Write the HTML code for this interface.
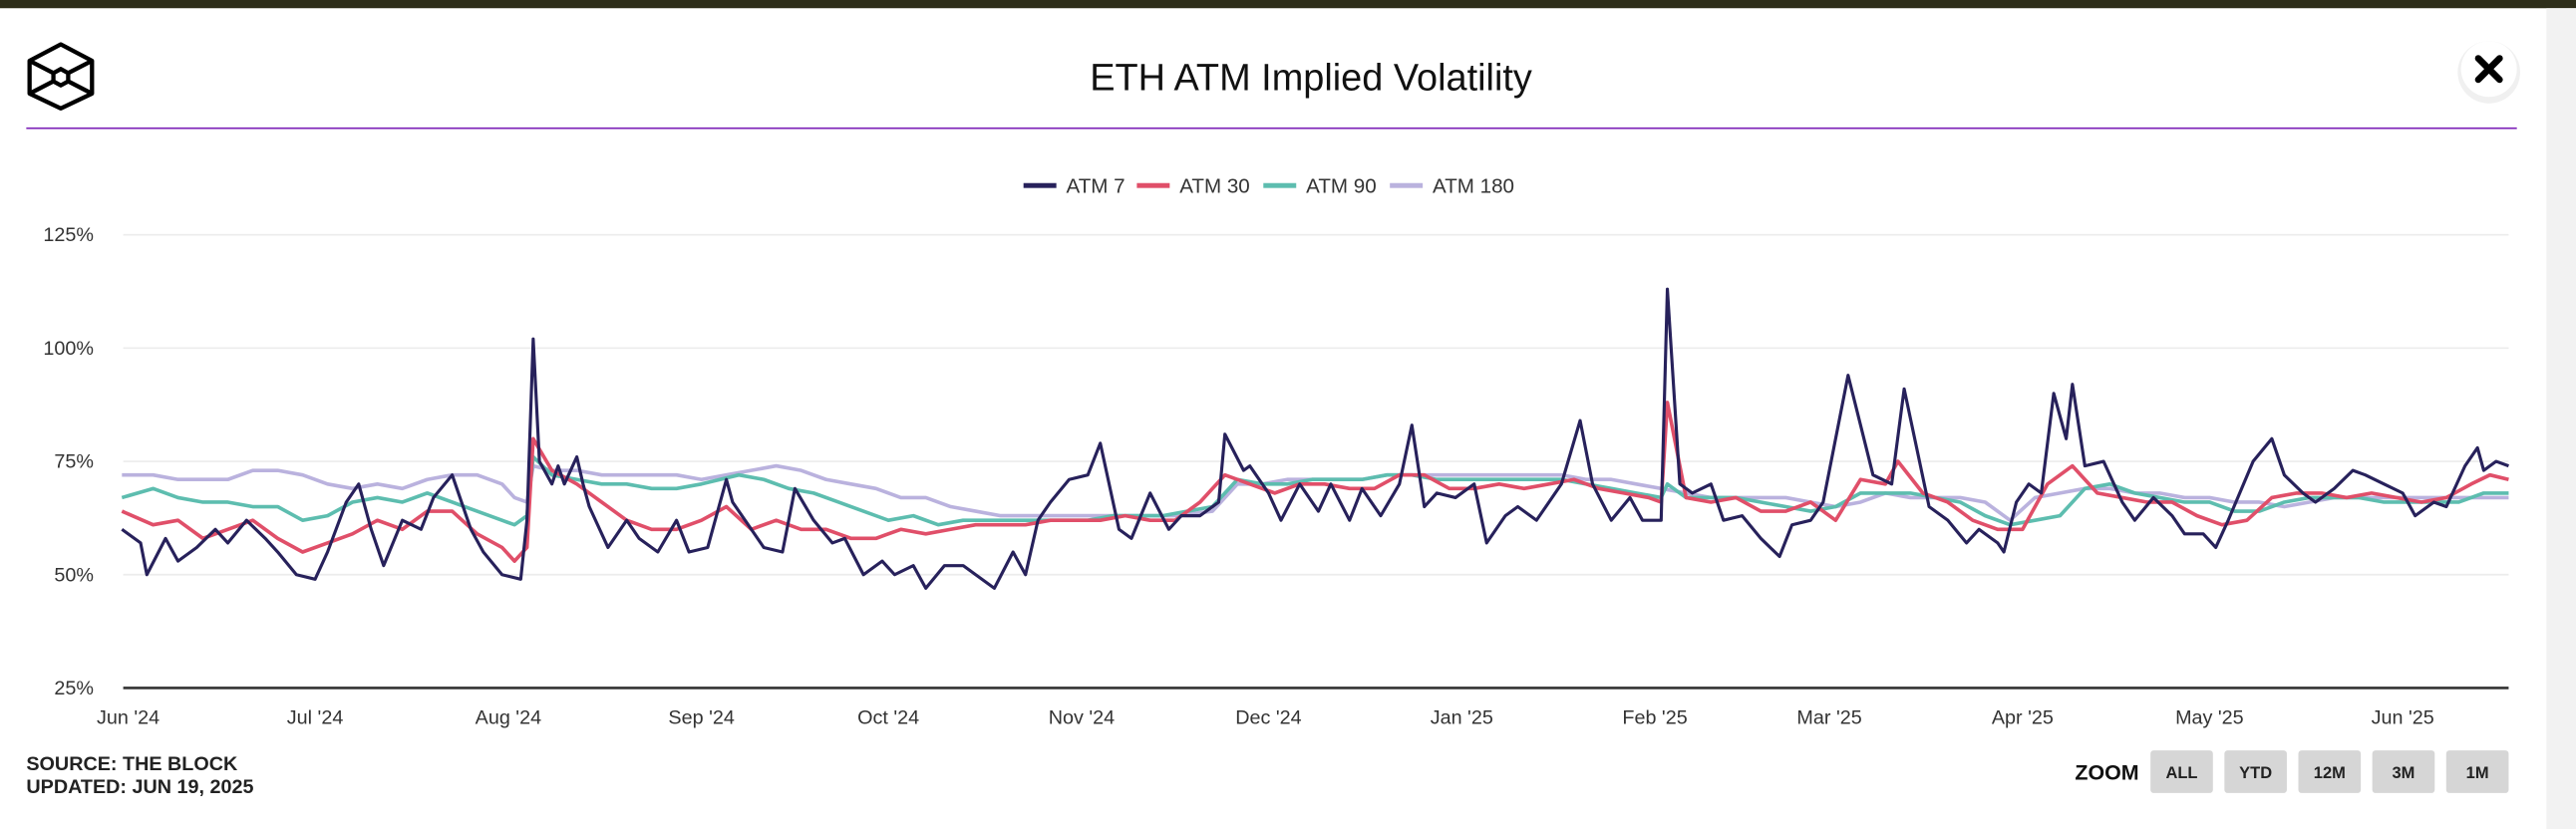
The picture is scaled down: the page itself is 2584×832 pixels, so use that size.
<!DOCTYPE html>
<html><head><meta charset="utf-8"><style>
html,body{margin:0;padding:0;background:#fff;}
svg{display:block;font-family:"Liberation Sans",sans-serif;}
</style></head><body>
<svg id="chart" width="2584" height="832" viewBox="0 0 1568 504.9" preserveAspectRatio="none" xmlns="http://www.w3.org/2000/svg">
<rect x="0" y="0" width="1568" height="505" fill="#fff"/>
<rect x="0" y="0" width="1568" height="5" fill="#2e2e1a"/>
<rect x="1550" y="5" width="18" height="500" fill="#f2f2f2"/>
<g fill="none" stroke="#000" stroke-width="2.6" stroke-linejoin="round">
<polygon points="37,27 56,37 56,57 37,66 18,57 18,37"/>
<polygon points="37,42 41.5,44.5 41.5,49.5 37,52 32.5,49.5 32.5,44.5"/>
<line x1="18" y1="37" x2="32.5" y2="44.5"/><line x1="56" y1="37" x2="41.5" y2="44.5"/>
<line x1="18" y1="57" x2="32.5" y2="49.5"/><line x1="56" y1="57" x2="41.5" y2="49.5"/>
</g>
<text x="798" y="55" text-anchor="middle" font-size="23" fill="#111">ETH ATM Implied Volatility</text>
<g>
<circle cx="1515" cy="44" r="19" fill="#e6e6e6" opacity="0.6"/>
<circle cx="1515" cy="42" r="17" fill="#fff"/>
<path d="M1508.5,35.5 L1521.5,48.5 M1521.5,35.5 L1508.5,48.5" stroke="#000" stroke-width="4" stroke-linecap="round"/>
</g>
<rect x="16" y="77.6" width="1516" height="1" fill="#7d22b8"/>
<g id="legend" font-size="12.5" fill="#333"></g>
<g id="grid"></g>
<g id="yaxis" font-size="12" fill="#333"></g>
<g id="xaxis" font-size="12" fill="#333"></g>
<g id="series"></g>
<text x="16" y="469" font-size="12" font-weight="bold" fill="#222">SOURCE: THE BLOCK</text>
<text x="16" y="483" font-size="12" font-weight="bold" fill="#222">UPDATED: JUN 19, 2025</text>
<text x="1302" y="475" text-anchor="end" font-size="13" font-weight="bold" fill="#111">ZOOM</text>
<g id="zoom" font-size="10" font-weight="bold" fill="#222"></g>
</svg>
<script>
const yTicks = [25, 50, 75, 100, 125];
const xTickLabels = ["Jun '24","Jul '24","Aug '24","Sep '24","Oct '24","Nov '24","Dec '24","Jan '25","Feb '25","Mar '25","Apr '25","May '25","Jun '25"];
const xTickDays = [0,30,61,92,122,153,183,214,245,273,304,334,365];
const seriesNames = ["ATM 7","ATM 30","ATM 90","ATM 180"];
const seriesColors = ["#27215b","#e04f69","#5dbdaf","#bab2de"];
const zoomLabels = ["ALL","YTD","12M","3M","1M"];

const days7 = [-1,2,3,6,8,11,14,16,19,22,24,27,30,32,35,37,39,41,44,47,49,52,55,57,60,63,64,65,66,68,69,70,72,73,74,77,80,82,85,88,90,93,96,97,99,102,105,107,110,113,115,118,121,123,126,128,131,134,136,139,142,144,146,148,151,154,156,159,161,164,167,169,172,175,176,179,180,183,185,188,191,193,196,198,201,204,206,208,210,213,216,218,221,223,226,230,233,235,238,241,243,246,247,249,251,254,256,259,262,265,267,270,272,276,278,280,283,285,287,289,292,295,297,300,301,303,305,307,309,311,312,314,317,320,322,325,328,330,333,335,337,341,344,346,349,351,354,357,359,362,365,367,370,372,375,377,378,380,382];
const atm7 = [60,57,50,58,53,56,60,57,62,58,55,50,49,55,66,70,60,52,62,60,67,72,60,55,50,49,62,102,75,70,74,70,76,70,65,56,62,58,55,62,55,56,71,66,62,56,55,69,62,57,58,50,53,50,52,47,52,52,50,47,55,50,62,66,71,72,79,60,58,68,60,63,63,66,81,73,74,68,62,70,64,70,62,69,63,70,83,65,68,67,70,57,63,65,62,70,84,70,62,67,62,62,113,70,68,70,62,63,58,54,61,62,66,94,83,72,70,91,78,65,62,57,60,57,55,66,70,68,90,80,92,74,75,66,62,67,63,59,59,56,62,75,80,72,68,66,69,73,72,70,68,63,66,65,74,78,73,75,74];

const days30 = [-1,4,8,12,16,20,24,28,32,36,40,44,48,52,56,60,62,64,65,68,72,76,80,84,88,92,96,100,104,108,112,116,120,124,128,132,136,140,144,148,152,156,160,164,168,172,176,180,184,188,192,196,200,204,208,212,216,220,224,228,232,236,240,244,246,247,250,254,258,262,266,270,274,278,282,284,288,292,296,300,304,308,312,316,320,324,328,332,336,340,344,348,352,356,360,364,368,372,376,379,382];
const atm30 = [64,61,62,58,60,62,58,55,57,59,62,60,64,64,59,56,53,56,80,73,70,66,62,60,60,62,65,60,62,60,60,58,58,60,59,60,61,61,61,62,62,62,63,62,62,66,72,70,68,70,70,69,69,72,72,69,69,70,69,70,71,69,68,67,66,88,67,66,67,64,64,66,62,71,70,75,68,66,62,60,60,70,74,68,67,66,66,63,61,62,67,68,68,67,68,67,66,67,70,72,71];

const days90 = [-1,4,8,12,16,20,24,28,32,36,40,44,48,52,56,60,62,64,65,68,72,76,80,84,88,92,98,102,106,110,114,118,122,126,130,134,138,142,146,150,154,158,162,166,170,174,178,182,186,190,194,198,202,206,210,214,218,222,226,230,234,238,242,246,247,250,254,258,262,266,270,274,278,282,286,290,294,298,302,306,310,314,318,322,326,330,334,338,342,346,350,354,358,362,366,370,374,378,382];
const atm90 = [67,69,67,66,66,65,65,62,63,66,67,66,68,66,64,62,61,63,76,72,71,70,70,69,69,70,72,71,69,68,66,64,62,63,61,62,62,62,62,62,62,63,63,63,64,65,71,70,70,71,71,71,72,72,71,71,71,71,71,71,70,69,68,67,70,67,67,67,66,65,64,65,68,68,68,67,66,63,61,62,63,69,70,68,67,66,66,64,64,66,67,67,67,66,66,66,66,68,68];

const days180 = [-1,4,8,12,16,20,24,28,32,36,40,44,48,52,56,60,62,64,65,68,72,76,80,84,88,92,96,100,104,108,112,116,120,124,128,132,136,140,144,150,156,162,168,174,178,182,186,190,194,198,202,206,210,214,218,222,226,230,234,238,242,246,250,254,258,262,266,270,274,278,282,286,290,294,298,302,306,310,314,318,322,326,330,334,338,342,346,350,354,358,362,366,370,374,378,382];
const atm180 = [72,72,71,71,71,73,73,72,70,69,70,69,71,72,72,70,67,66,74,73,73,72,72,72,72,71,72,73,74,73,71,70,69,67,67,65,64,63,63,63,63,63,63,64,70,70,71,71,71,71,72,72,72,72,72,72,72,72,71,71,70,69,68,67,67,67,67,66,65,66,68,67,67,67,66,62,67,68,69,69,68,68,67,67,66,66,65,66,67,67,67,67,67,67,67,67];

const L = 75, R = 1527, T = 143, B = 419;
const dMin = -1, dMax = 382, vMin = 25, vMax = 125;
function xScale(d){ return 78 + d * ((R - 78) / dMax); }
function yScale(v){ return B - (v - vMin) / (vMax - vMin) * (B - T); }
const NS = "http://www.w3.org/2000/svg";
function mk(tag, attrs, parent){ const e = document.createElementNS(NS, tag); for (const k in attrs) e.setAttribute(k, attrs[k]); parent.appendChild(e); return e; }

const grid = document.getElementById('grid');
const yaxis = document.getElementById('yaxis');
yTicks.forEach(v => {
  const y = yScale(v);
  const ln = mk('line', {x1: L, x2: R, y1: y, y2: y, stroke: v === 25 ? '#333' : '#ececec', 'stroke-width': v === 25 ? 1.6 : 1}, grid);
  
  
  const t = mk('text', {x: 57, y: y + 4, 'text-anchor': 'end'}, yaxis);
  t.textContent = v + '%';
  
  
});
const xaxis = document.getElementById('xaxis');
xTickLabels.forEach((lab, i) => {
  const t = mk('text', {x: xScale(xTickDays[i]), y: 441, 'text-anchor': 'middle'}, xaxis);
  t.textContent = lab;
  
  
});

const series = document.getElementById('series');
const allDays = [days7, days30, days90, days180];
const allVals = [atm7, atm30, atm90, atm180];
for (let s = 3; s >= 0; s--) {
  const dd = allDays[s], vv = allVals[s];
  const n = Math.min(dd.length, vv.length);
  let p = '';
  for (let i = 0; i < n; i++) p += (i ? 'L' : 'M') + xScale(Math.max(dd[i], dMin)).toFixed(2) + ',' + yScale(vv[i]).toFixed(2);
  const path = mk('path', {d: p, fill: 'none', stroke: seriesColors[s], 'stroke-width': s === 0 ? 1.9 : 2.2, 'stroke-linejoin': 'round'}, series);
  
  
}

const legend = document.getElementById('legend');
const legX = [623, 692, 769, 846];
seriesNames.forEach((nm, i) => {
  const g = mk('g', {}, legend);
  
  
  mk('rect', {x: legX[i], y: 111.5, width: 20, height: 3, fill: seriesColors[i]}, g);
  const t = mk('text', {x: legX[i] + 26, y: 117.5}, g);
  t.textContent = nm;
});

const zoom = document.getElementById('zoom');
const zx = [1309, 1354, 1399, 1444, 1489];
zoomLabels.forEach((lab, i) => {
  const g = mk('g', {}, zoom);
  
  
  mk('rect', {x: zx[i], y: 457, width: 38, height: 26, rx: 2, fill: '#d6d6d6'}, g);
  const t = mk('text', {x: zx[i] + 19, y: 474, 'text-anchor': 'middle'}, g);
  t.textContent = lab;
});
</script>
</body></html>
